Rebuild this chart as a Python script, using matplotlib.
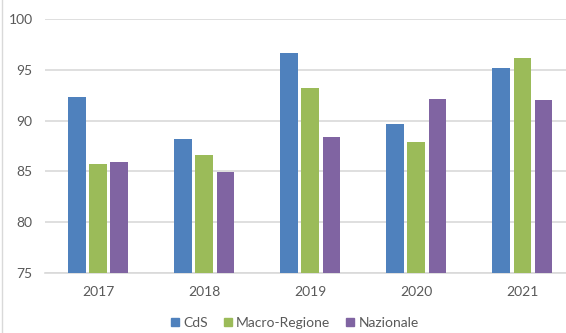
import numpy as np
import matplotlib
matplotlib.use("Agg")
import matplotlib.pyplot as plt
from matplotlib.lines import Line2D

years = ["2017", "2018", "2019", "2020", "2021"]
cds = [92.3, 88.2, 96.7, 89.7, 95.2]
macro = [85.7, 86.6, 93.2, 87.9, 96.2]
nazionale = [85.9, 84.9, 88.4, 92.1, 92.0]
series_names = ["CdS", "Macro-Regione", "Nazionale"]
colors = ["#4F81BD", "#9BBB59", "#8064A2"]

plt.rcParams["font.family"] = ["Lato", "DejaVu Sans"]

fig = plt.figure(figsize=(5.66, 3.33), dpi=100)
ax = fig.add_axes([0.0795, 0.180, 0.937, 0.763])

x = np.arange(len(years))
width = 0.166
for i, (vals, col) in enumerate(zip([cds, macro, nazionale], colors)):
    ax.bar(x + (i - 1) * 0.2, vals, width, color=col, zorder=3, label=series_names[i])

ax.set_ylim(75, 100)
ax.set_xlim(-0.5, 4.5)
ax.set_yticks([75, 80, 85, 90, 95, 100])
ax.set_xticks(x)
ax.set_xticklabels(years)
ax.yaxis.grid(True, color="#D9D9D9", linewidth=1.2, zorder=0)
for s in ["top", "right", "left"]:
    ax.spines[s].set_visible(False)
ax.spines["bottom"].set_color("#D9D9D9")
ax.spines["bottom"].set_linewidth(1.2)
ax.tick_params(axis="both", length=0, colors="#595959", labelsize=10)
ax.tick_params(axis="x", pad=9)
ax.tick_params(axis="y", pad=9)

handles = [Line2D([], [], marker="s", linestyle="", color=c, markersize=5.5) for c in colors]
fig.legend(handles, series_names, loc="center", bbox_to_anchor=(0.52, 0.03), ncol=3,
           frameon=False, fontsize=10, handlelength=0.7, handletextpad=0.25,
           columnspacing=1.1, labelcolor="#595959")

# light frame on the left edge
fig.add_artist(Line2D([0.004, 0.004], [0, 1], color="#D9D9D9", linewidth=1))

fig.savefig("out.png", dpi=100)
